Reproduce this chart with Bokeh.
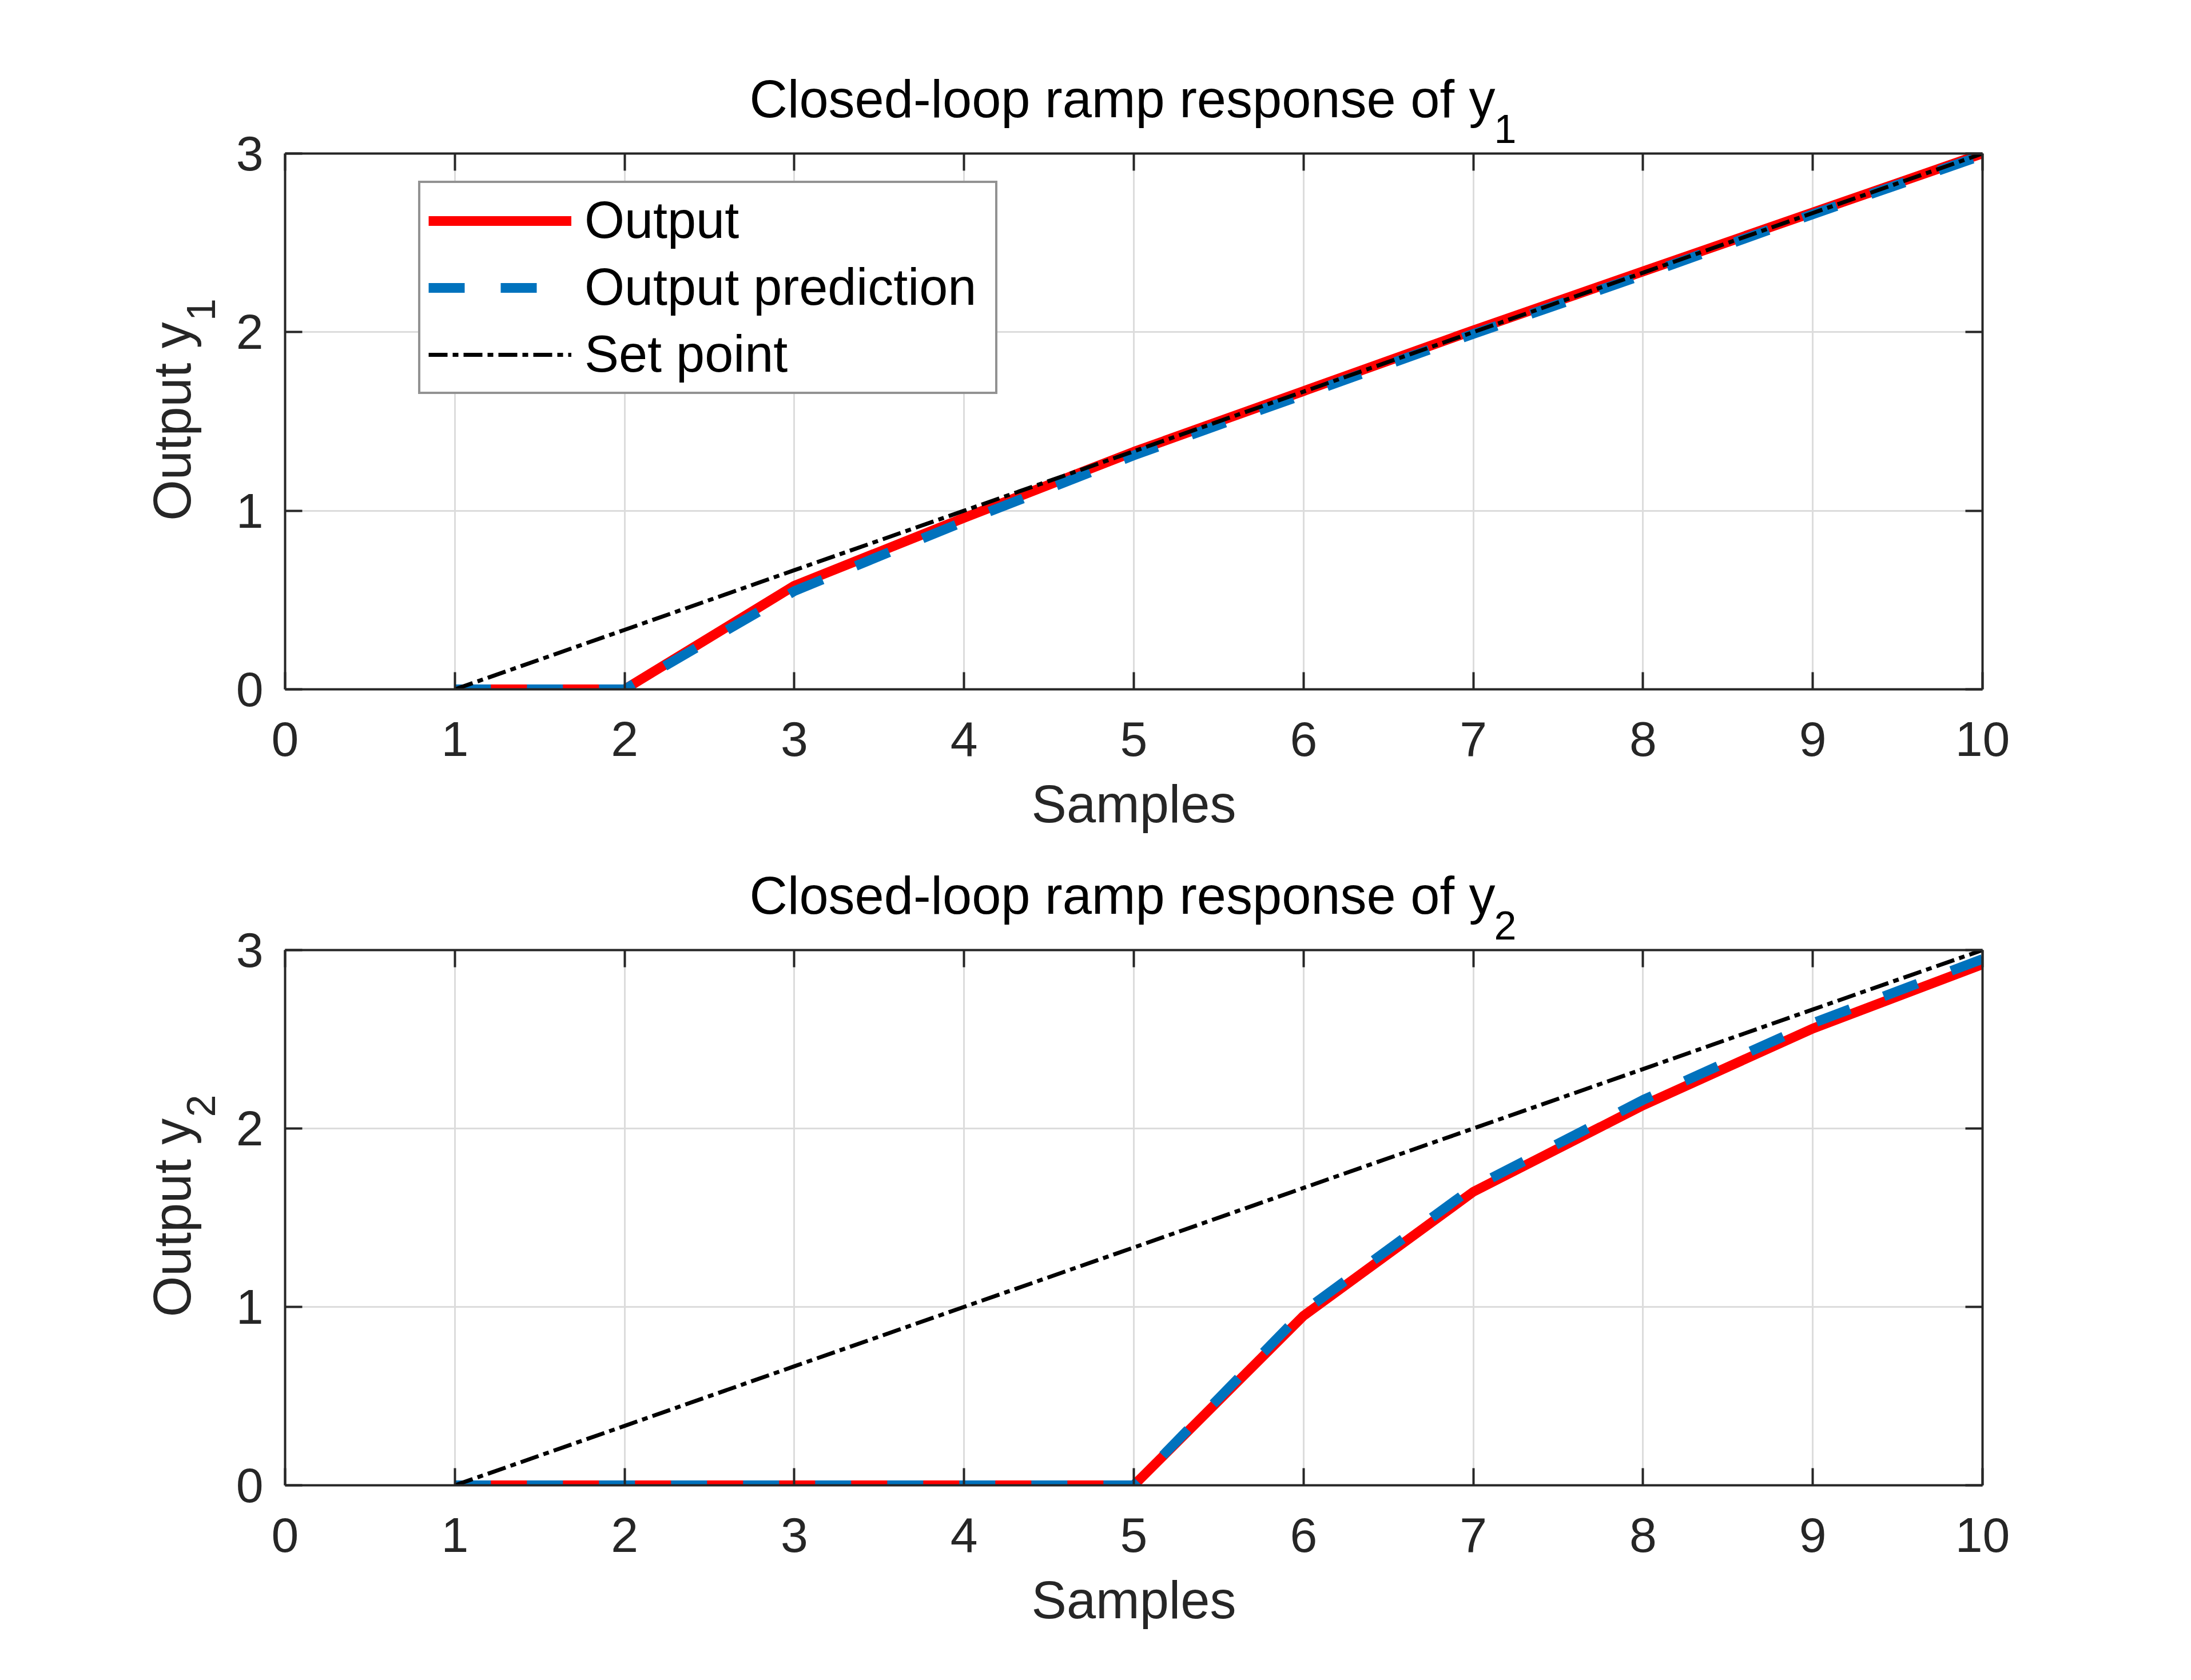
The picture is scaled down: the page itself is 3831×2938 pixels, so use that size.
import math
from bokeh.plotting import figure
from bokeh.models import (Range1d, FixedTicker, LinearAxis, Legend, LegendItem, Label)
from bokeh.layouts import column
from bokeh.embed import file_html
from bokeh.resources import INLINE

# ---------------- data ----------------
samples = [1, 2, 3, 4, 5, 6, 7, 8, 9, 10]

y1_output = [0.0, 0.0, 0.58, 0.96, 1.33, 1.67, 2.01, 2.34, 2.67, 3.0]
y1_prediction = [0.0, 0.0, 0.55, 0.94, 1.31, 1.65, 1.99, 2.32, 2.66, 2.99]
y1_setpoint = [0.0, 0.333, 0.667, 1.0, 1.333, 1.667, 2.0, 2.333, 2.667, 3.0]

y2_output = [0.0, 0.0, 0.0, 0.0, 0.0, 0.95, 1.645, 2.13, 2.56, 2.92]
y2_prediction = [0.0, 0.0, 0.0, 0.0, 0.0, 0.975, 1.67, 2.16, 2.59, 2.95]
y2_setpoint = [0.0, 0.333, 0.667, 1.0, 1.333, 1.667, 2.0, 2.333, 2.667, 3.0]

x_ticks = [0, 1, 2, 3, 4, 5, 6, 7, 8, 9, 10]
y_ticks = [0, 1, 2, 3]

titles = ["Closed-loop ramp response of y", "Closed-loop ramp response of y"]
subscripts = ["1", "2"]
ylabels = ["Output y", "Output y"]
xlabel = "Samples"
legend_labels = ["Output", "Output prediction", "Set point"]

# ---------------- style ----------------
FONT = "Liberation Sans"
AX_COLOR = "#262626"
GRID_COLOR = "#dcdcdc"
RED = "#ff0000"
BLUE = "#0072bd"
W = 3815


def style_axis(ax):
    ax.axis_line_color = AX_COLOR
    ax.axis_line_width = 4
    ax.major_tick_line_color = AX_COLOR
    ax.major_tick_line_width = 4
    ax.major_tick_in = 30
    ax.major_tick_out = 0
    ax.minor_tick_line_color = None


def make_panel(height, top, bottom, yout, ypred, ysp, idx, with_legend):
    p = figure(width=W, height=height, output_backend="svg", toolbar_location=None,
               x_range=Range1d(0, 10), y_range=Range1d(0, 3),
               min_border_left=498, min_border_right=349,
               min_border_top=top, min_border_bottom=bottom,
               x_axis_label=xlabel, y_axis_label=ylabels[idx])
    p.outline_line_color = None
    p.background_fill_color = "white"
    p.border_fill_color = "white"

    for ax in p.xaxis:
        ax.ticker = FixedTicker(ticks=x_ticks)
        ax.major_label_standoff = 57
        ax.axis_label_standoff = 30
    for ax in p.yaxis:
        ax.ticker = FixedTicker(ticks=y_ticks)
        ax.major_label_standoff = 38
        ax.axis_label_standoff = 58
    for ax in list(p.xaxis) + list(p.yaxis):
        style_axis(ax)
        ax.major_label_text_font = FONT
        ax.major_label_text_font_size = "86px"
        ax.major_label_text_color = AX_COLOR
        ax.axis_label_text_font = FONT
        ax.axis_label_text_font_size = "92px"
        ax.axis_label_text_font_style = "normal"
        ax.axis_label_text_color = AX_COLOR

    top_ax = LinearAxis(ticker=FixedTicker(ticks=x_ticks),
                        major_label_overrides={t: "" for t in x_ticks})
    right_ax = LinearAxis(ticker=FixedTicker(ticks=y_ticks),
                          major_label_overrides={t: "" for t in y_ticks})
    for ax in (top_ax, right_ax):
        style_axis(ax)
        ax.major_label_standoff = 0
        ax.major_label_text_font_size = "1px"
    p.add_layout(top_ax, "above")
    p.add_layout(right_ax, "right")

    # title (main part) + subscript, positioned from the axes' own scales
    p.add_layout(Label(x=5, y=3, x_offset=632, y_offset=96, text=titles[idx],
                       text_align="right", text_baseline="alphabetic",
                       text_font=FONT, text_font_size="92px", text_color="black"), "above")
    p.add_layout(Label(x=5, y=3, x_offset=630, y_offset=43, text=subscripts[idx],
                       text_align="left", text_baseline="alphabetic",
                       text_font=FONT, text_font_size="70px", text_color="black"), "left")
    # y label subscript (rotated)
    p.add_layout(Label(x=0, y=1.5, x_offset=-147, y_offset=176, text=subscripts[idx],
                       angle=math.pi / 2, text_align="left", text_baseline="alphabetic",
                       text_font=FONT, text_font_size="70px", text_color=AX_COLOR), "left")

    # grid
    p.xgrid.ticker = FixedTicker(ticks=x_ticks)
    p.ygrid.ticker = FixedTicker(ticks=y_ticks)
    for g in (p.xgrid, p.ygrid):
        g.grid_line_color = GRID_COLOR
        g.grid_line_width = 3

    r_out = p.line(samples, yout, line_color=RED, line_width=17)
    r_pred = p.line(samples, ypred, line_color=BLUE, line_width=17, line_dash="63 63")
    r_sp = p.line(samples, ysp, line_color="black", line_width=7, line_dash="33 9 10 9")

    if with_legend:
        legend = Legend(items=[LegendItem(label=legend_labels[0], renderers=[r_out]),
                               LegendItem(label=legend_labels[1], renderers=[r_pred]),
                               LegendItem(label=legend_labels[2], renderers=[r_sp])],
                        location=(233, 516))
        legend.label_text_font = FONT
        legend.label_text_font_size = "90px"
        legend.label_text_color = "black"
        legend.glyph_width = 250
        legend.glyph_height = 100
        legend.label_height = 100
        legend.label_width = 704
        legend.label_standoff = 23
        legend.padding = 14
        legend.spacing = 14
        legend.margin = 0
        legend.border_line_color = AX_COLOR
        legend.border_line_width = 4
        legend.background_fill_color = "white"
        legend.background_fill_alpha = 1.0
        p.add_layout(legend, "center")
    return p


p1 = make_panel(1480, 268, 275, y1_output, y1_prediction, y1_setpoint, 0, True)
p2 = make_panel(1442, 181, 325, y2_output, y2_prediction, y2_setpoint, 1, False)

layout = column(p1, p2, spacing=0)
open("out.html", "w").write(file_html(layout, INLINE))
